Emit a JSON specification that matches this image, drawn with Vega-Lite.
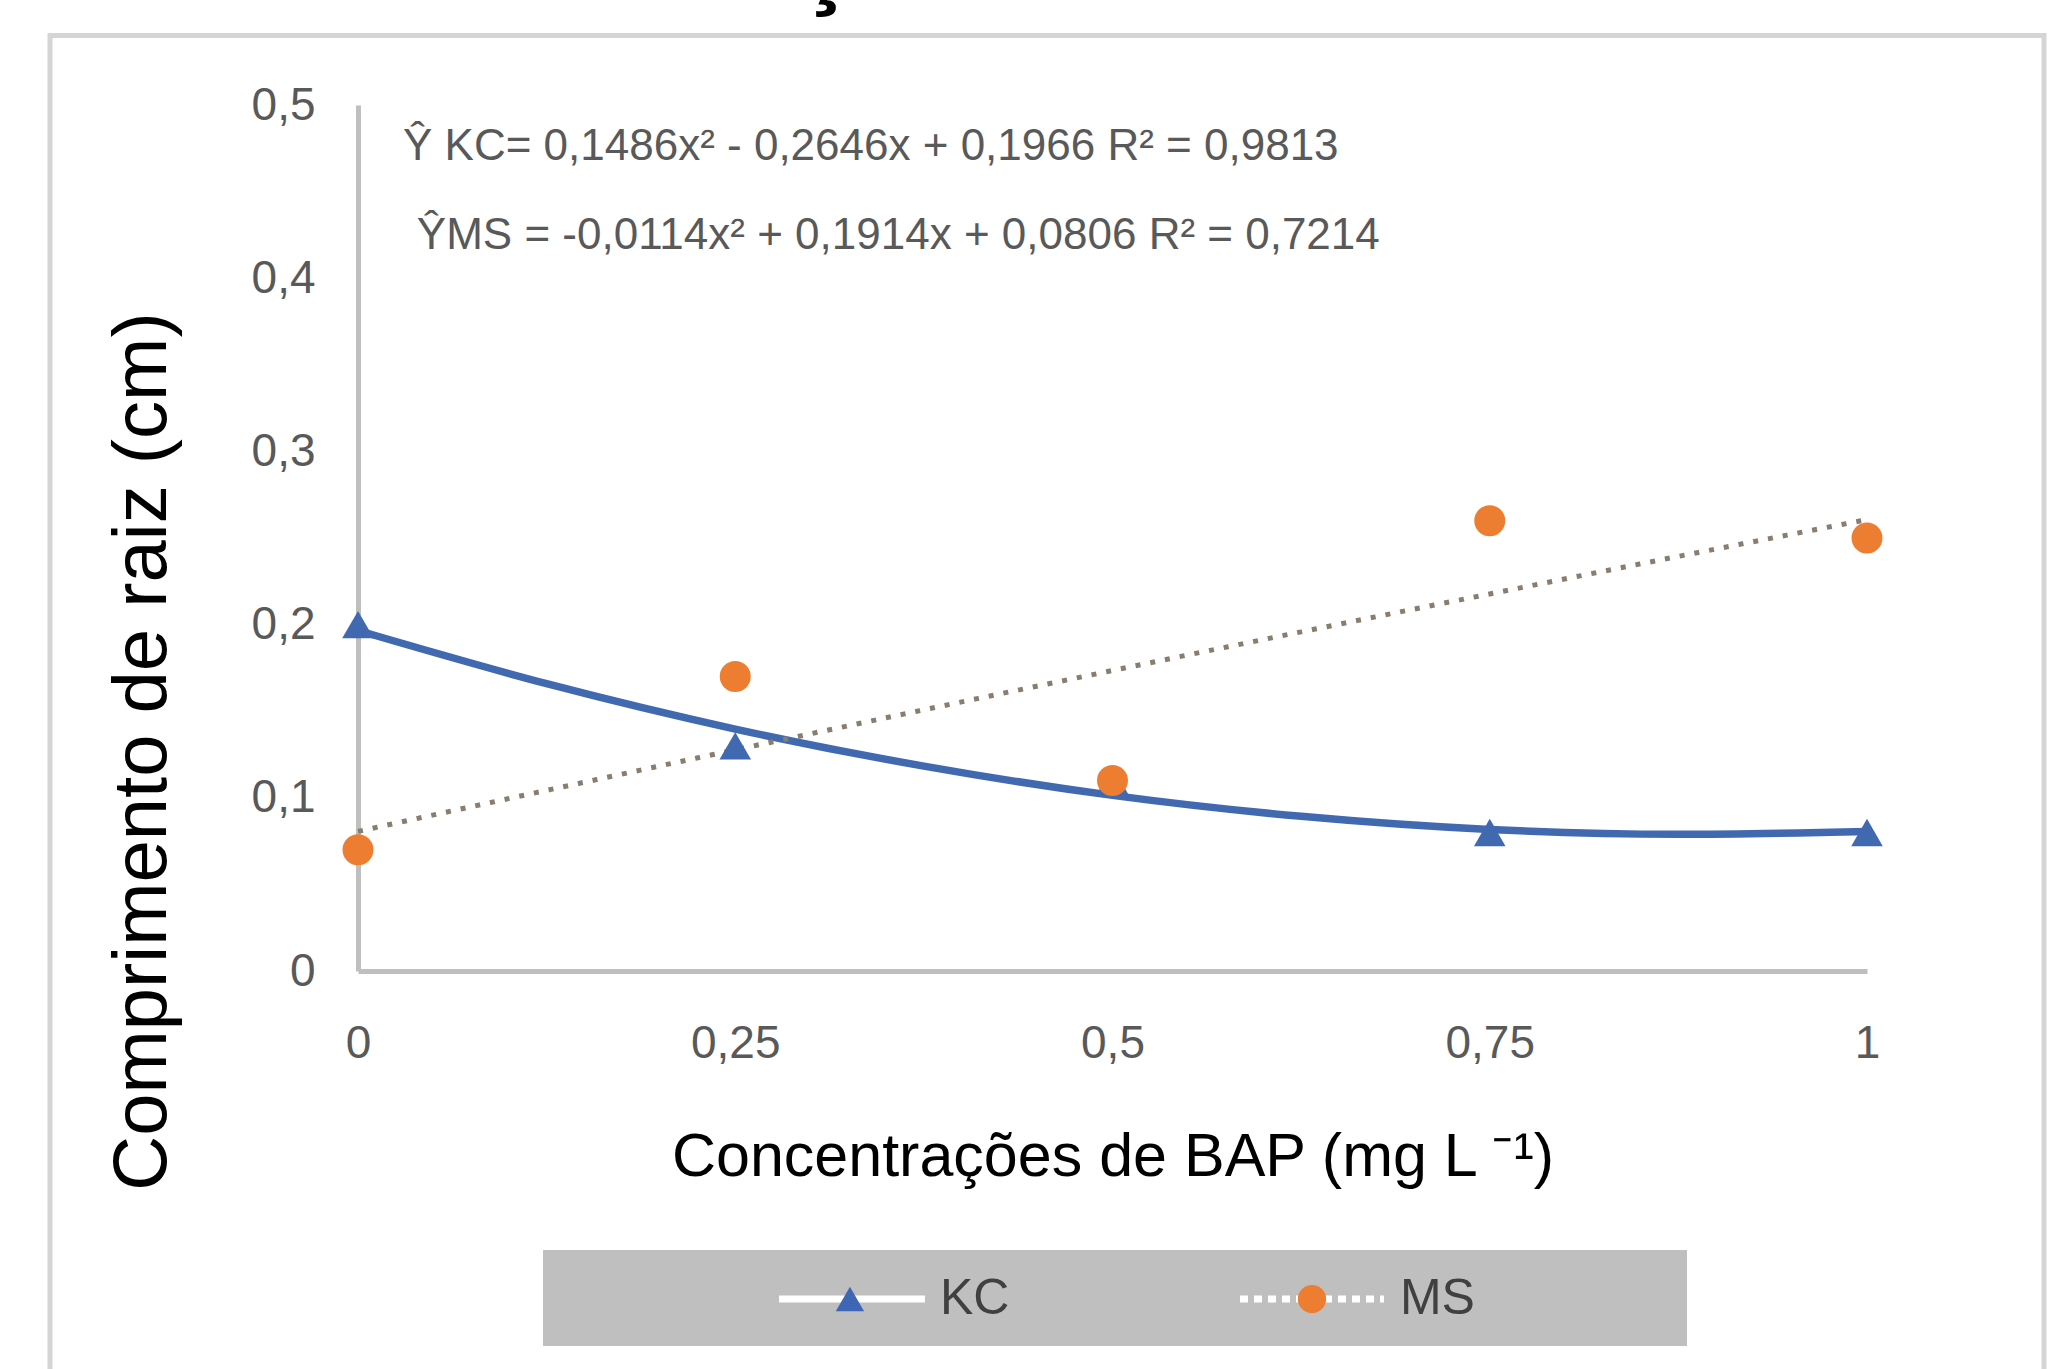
{
  "$schema": "https://vega.github.io/schema/vega-lite/v6.json",
  "autosize": "none",
  "width": 1509,
  "height": 866,
  "padding": {"left": 358, "top": 105, "right": 190, "bottom": 398},
  "background": "white",
  "config": {
    "view": {"stroke": null},
    "axis": {
      "domainColor": "#bfbfbf",
      "domainWidth": 5,
      "ticks": false,
      "grid": false,
      "labelFont": "Liberation Sans",
      "labelFontSize": 46,
      "labelColor": "#595959",
      "titleColor": "#000000",
      "titleFontWeight": "normal"
    }
  },
  "datasets": {
    "obs": [
      {"dose": 0, "series": "KC", "value": 0.2},
      {"dose": 0.25, "series": "KC", "value": 0.13},
      {"dose": 0.5, "series": "KC", "value": 0.11},
      {"dose": 0.75, "series": "KC", "value": 0.08},
      {"dose": 1, "series": "KC", "value": 0.08},
      {"dose": 0, "series": "MS", "value": 0.07},
      {"dose": 0.25, "series": "MS", "value": 0.17},
      {"dose": 0.5, "series": "MS", "value": 0.11},
      {"dose": 0.75, "series": "MS", "value": 0.26},
      {"dose": 1, "series": "MS", "value": 0.25}
    ],
    "trend": [
      {"dose": 0, "series": "KC", "value": 0.1966},
      {"dose": 0.125, "series": "KC", "value": 0.1659},
      {"dose": 0.25, "series": "KC", "value": 0.1397},
      {"dose": 0.375, "series": "KC", "value": 0.1183},
      {"dose": 0.5, "series": "KC", "value": 0.1014},
      {"dose": 0.625, "series": "KC", "value": 0.0893},
      {"dose": 0.75, "series": "KC", "value": 0.0817},
      {"dose": 0.875, "series": "KC", "value": 0.0789},
      {"dose": 1, "series": "KC", "value": 0.0806},
      {"dose": 0, "series": "MS", "value": 0.0806},
      {"dose": 0.125, "series": "MS", "value": 0.1043},
      {"dose": 0.25, "series": "MS", "value": 0.1277},
      {"dose": 0.375, "series": "MS", "value": 0.1508},
      {"dose": 0.5, "series": "MS", "value": 0.1735},
      {"dose": 0.625, "series": "MS", "value": 0.1958},
      {"dose": 0.75, "series": "MS", "value": 0.2177},
      {"dose": 0.875, "series": "MS", "value": 0.2394},
      {"dose": 1, "series": "MS", "value": 0.2606}
    ],
    "notes": [{"item": "note"}]
  },
  "layer": [
    {
      "data": {"name": "trend"},
      "transform": [{"filter": "datum.series === 'KC'"}],
      "mark": {"type": "line", "color": "#4169b0", "strokeWidth": 7.5, "interpolate": "monotone"},
      "encoding": {
        "x": {
          "field": "dose",
          "type": "quantitative",
          "scale": {"domain": [0, 1], "nice": false},
          "axis": {
            "title": "Concentrações de BAP (mg L ⁻¹)",
            "values": [0, 0.25, 0.5, 0.75, 1],
            "labelExpr": "replace(format(datum.value, '~g'), '.', ',')",
            "labelPadding": 50,
            "labelFlush": false,
            "titleFont": "Liberation Sans",
            "titleFontSize": 61,
            "titlePadding": 61
          }
        },
        "y": {
          "field": "value",
          "type": "quantitative",
          "scale": {"domain": [0, 0.5], "nice": false},
          "axis": {
            "title": "Comprimento de raiz (cm)",
            "values": [0, 0.1, 0.2, 0.3, 0.4, 0.5],
            "labelExpr": "replace(format(datum.value, '~g'), '.', ',')",
            "labelPadding": 43,
            "titleFont": "Liberation Sans",
            "titleFontSize": 76,
            "titlePadding": 70,
            "titleY": 646
          }
        }
      }
    },
    {
      "data": {"name": "trend"},
      "transform": [{"filter": "datum.series === 'MS'"}],
      "mark": {"type": "line", "color": "#877d70", "strokeWidth": 5, "strokeDash": [5, 10], "strokeCap": "butt", "interpolate": "monotone"},
      "encoding": {
        "x": {"field": "dose", "type": "quantitative"},
        "y": {"field": "value", "type": "quantitative"}
      }
    },
    {
      "data": {"name": "obs"},
      "transform": [{"filter": "datum.series === 'KC'"}],
      "mark": {"type": "point", "shape": "triangle-up", "filled": true, "color": "#4169b0", "size": 1000, "opacity": 1},
      "encoding": {
        "x": {"field": "dose", "type": "quantitative"},
        "y": {"field": "value", "type": "quantitative"}
      }
    },
    {
      "data": {"name": "obs"},
      "transform": [{"filter": "datum.series === 'MS'"}],
      "mark": {"type": "point", "shape": "circle", "filled": true, "color": "#ED7D31", "size": 960, "opacity": 1},
      "encoding": {
        "x": {"field": "dose", "type": "quantitative"},
        "y": {"field": "value", "type": "quantitative"}
      }
    },
    {
      "data": {"name": "notes"},
      "mark": {"type": "rect", "fillOpacity": 0, "stroke": "#d5d5d5", "strokeWidth": 5},
      "encoding": {
        "x": {"datum": -0.2041},
        "x2": {"datum": 1.1173},
        "y": {"datum": 0.5401},
        "y2": {"datum": -0.28}
      }
    },
    {
      "data": {"name": "notes"},
      "mark": {"type": "text", "text": "ç", "font": "Liberation Sans", "fontSize": 100, "fontWeight": "bold", "color": "#000000", "align": "center", "baseline": "alphabetic"},
      "encoding": {
        "x": {"datum": 0.3095},
        "y": {"datum": 0.5629}
      }
    },
    {
      "data": {"name": "notes"},
      "mark": {"type": "text", "text": "Ŷ KC= 0,1486x² - 0,2646x + 0,1966 R² = 0,9813", "font": "Liberation Sans", "fontSize": 44, "color": "#595959", "align": "left", "baseline": "middle"},
      "encoding": {
        "x": {"datum": 0.0298},
        "y": {"datum": 0.4757}
      }
    },
    {
      "data": {"name": "notes"},
      "mark": {"type": "text", "text": "ŶMS = -0,0114x² + 0,1914x + 0,0806 R² = 0,7214", "font": "Liberation Sans", "fontSize": 44, "color": "#595959", "align": "left", "baseline": "middle"},
      "encoding": {
        "x": {"datum": 0.039},
        "y": {"datum": 0.4244}
      }
    },
    {
      "data": {"name": "notes"},
      "mark": {"type": "rect", "color": "#bfbfbf"},
      "encoding": {
        "x": {"datum": 0.1226},
        "x2": {"datum": 0.8807},
        "y": {"datum": -0.1611},
        "y2": {"datum": -0.2165}
      }
    },
    {
      "data": {"name": "notes"},
      "mark": {"type": "rule", "color": "#ffffff", "strokeWidth": 7},
      "encoding": {
        "x": {"datum": 0.279},
        "x2": {"datum": 0.3757},
        "y": {"datum": -0.1894}
      }
    },
    {
      "data": {"name": "notes"},
      "mark": {"type": "point", "shape": "triangle-up", "filled": true, "color": "#3f66b4", "size": 800, "opacity": 1},
      "encoding": {
        "x": {"datum": 0.326},
        "y": {"datum": -0.1894}
      }
    },
    {
      "data": {"name": "notes"},
      "mark": {"type": "text", "text": "KC", "font": "Liberation Sans", "fontSize": 50, "color": "#404040", "align": "left", "baseline": "middle"},
      "encoding": {
        "x": {"datum": 0.3857},
        "y": {"datum": -0.1894}
      }
    },
    {
      "data": {"name": "notes"},
      "mark": {"type": "rule", "color": "#ffffff", "strokeWidth": 7, "strokeDash": [8, 6]},
      "encoding": {
        "x": {"datum": 0.5845},
        "x2": {"datum": 0.6799},
        "y": {"datum": -0.1894}
      }
    },
    {
      "data": {"name": "notes"},
      "mark": {"type": "point", "shape": "circle", "filled": true, "color": "#ED7D31", "size": 800, "opacity": 1},
      "encoding": {
        "x": {"datum": 0.6322},
        "y": {"datum": -0.1894}
      }
    },
    {
      "data": {"name": "notes"},
      "mark": {"type": "text", "text": "MS", "font": "Liberation Sans", "fontSize": 50, "color": "#404040", "align": "left", "baseline": "middle"},
      "encoding": {
        "x": {"datum": 0.6905},
        "y": {"datum": -0.1894}
      }
    }
  ]
}
